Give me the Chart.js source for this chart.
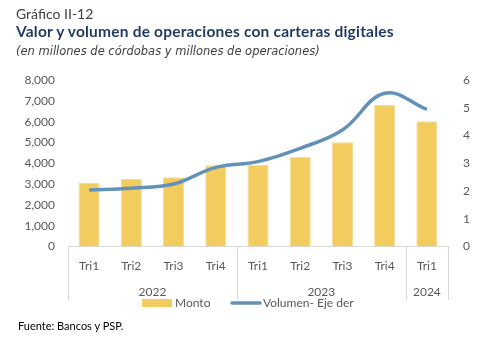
<!DOCTYPE html>
<html>
<head>
<meta charset="utf-8">
<script src="https://cdn.jsdelivr.net/npm/chart.js@4"></script>
<style>
  body { margin: 0; background: #fff; }
  #wrap { position: relative; width: 482px; height: 351px; font-family: Lato, sans-serif; }
  #chart { position: absolute; left: 0; top: 0; }
  .txt { position: absolute; white-space: nowrap; }
  #kicker { left: 16px; top: 5px; font-size: 14px; color: #404040; }
  #title { left: 16px; top: 22px; font-size: 15.5px; font-weight: bold; color: #1f3a5f; letter-spacing: 0.2px; }
  #sub { left: 16px; top: 44px; font-family: 'DejaVu Sans', sans-serif; font-size: 11.5px; font-style: italic; color: #404040; }
  #src { left: 18px; top: 319px; font-size: 11px; color: #000; }
</style>
</head>
<body>
<div id="wrap">
  <canvas id="chart" width="482" height="351"></canvas>
  <div class="txt" id="kicker">Gráfico II-12</div>
  <div class="txt" id="title">Valor y volumen de operaciones con carteras digitales</div>
  <div class="txt" id="sub">(en millones de córdobas y millones de operaciones)</div>
  <div class="txt" id="src">Fuente: Bancos y PSP.</div>
</div>
<script>
// quarters and the year groups they belong to
const categories = ['Tri1', 'Tri2', 'Tri3', 'Tri4', 'Tri1', 'Tri2', 'Tri3', 'Tri4', 'Tri1'];
const years = ['2022', '2023', '2024'];
const yearSpans = [4, 4, 1];

// Monto (millones de córdobas), left axis
const monto = [3050, 3250, 3330, 3900, 3920, 4300, 5010, 6800, 6020];
// Volumen (millones de operaciones), right axis
const volumen = [2.04, 2.10, 2.25, 2.85, 3.06, 3.54, 4.20, 5.52, 4.94];

const barColor = '#f2cc5f';
const lineColor = '#6392b9';
const textColor = '#595959';
const axisGray = '#d9d9d9';

// year row under the quarter labels, separators and legend
const groupAxis = {
  id: 'groupAxis',
  afterDraw(chart) {
    const ctx = chart.ctx;
    const x = chart.scales.x;
    const area = chart.chartArea;
    const half = (x.getPixelForValue(1) - x.getPixelForValue(0)) / 2;
    ctx.save();
    ctx.strokeStyle = axisGray;
    ctx.lineWidth = 1;
    ctx.fillStyle = textColor;
    ctx.font = '12px Lato, sans-serif';
    ctx.textAlign = 'center';
    ctx.textBaseline = 'middle';
    let start = 0;
    const edges = [x.getPixelForValue(0) - half];
    yearSpans.forEach((span, i) => {
      const end = start + span - 1;
      const l = x.getPixelForValue(start) - half;
      const r = x.getPixelForValue(end) + half;
      edges.push(r);
      ctx.fillText(years[i], (l + r) / 2, 292);
      start += span;
    });
    edges.forEach(e => {
      const px = Math.round(e) + 0.5;
      ctx.beginPath();
      ctx.moveTo(px, area.bottom);
      ctx.lineTo(px, 300);
      ctx.stroke();
    });

    // legend
    const ly = 303;
    ctx.textAlign = 'left';
    ctx.fillStyle = barColor;
    ctx.fillRect(142, ly - 4, 30, 8);
    ctx.fillStyle = textColor;
    ctx.fillText('Monto', 175, ly);
    ctx.strokeStyle = lineColor;
    ctx.lineWidth = 3.5;
    ctx.lineCap = 'round';
    ctx.beginPath();
    ctx.moveTo(232, ly);
    ctx.lineTo(260, ly);
    ctx.stroke();
    ctx.fillText('Volumen- Eje der', 263, ly);
    ctx.restore();
  }
};

new Chart(document.getElementById('chart'), {
  type: 'bar',
  data: {
    labels: categories,
    datasets: [
      {
        type: 'line',
        label: 'Volumen- Eje der',
        data: volumen,
        yAxisID: 'y1',
        borderColor: lineColor,
        borderWidth: 3.5,
        pointRadius: 0,
        tension: 0.4,
        fill: false,
        order: 0
      },
      {
        label: 'Monto',
        data: monto,
        yAxisID: 'y',
        backgroundColor: barColor,
        borderColor: '#f6dc95',
        borderWidth: 1,
        barPercentage: 1,
        categoryPercentage: 0.5,
        order: 1
      }
    ]
  },
  options: {
    responsive: false,
    animation: false,
    layout: { padding: { top: 80, bottom: 0, left: 0, right: 0 } },
    plugins: { legend: { display: false }, tooltip: { enabled: false } },
    scales: {
      x: {
        grid: { display: false, drawTicks: false },
        border: { color: axisGray },
        ticks: { color: textColor, font: { family: 'Lato', size: 12 }, padding: 12, maxRotation: 0 },
        afterFit(s) { s.height = 104.5; }
      },
      y: {
        position: 'left',
        min: 0, max: 8000,
        grid: { display: false, drawTicks: false },
        border: { display: false },
        ticks: {
          stepSize: 1000, padding: 13, color: textColor,
          font: { family: 'Lato', size: 12 },
          callback: v => v.toLocaleString('en-US')
        },
        afterFit(s) { s.width = 68; }
      },
      y1: {
        position: 'right',
        min: 0, max: 6,
        grid: { display: false, drawTicks: false },
        border: { display: false },
        ticks: { stepSize: 1, padding: 15, color: textColor, font: { family: 'Lato', size: 12 } },
        afterFit(s) { s.width = 34; }
      }
    }
  },
  plugins: [groupAxis]
});
</script>
</body>
</html>
